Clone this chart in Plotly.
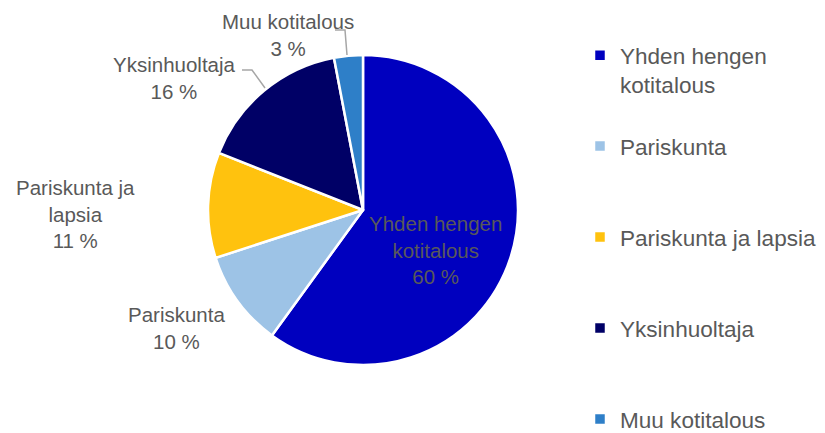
import plotly.graph_objects as go

categories = ["Yhden hengen kotitalous", "Pariskunta", "Pariskunta ja lapsia", "Yksinhuoltaja", "Muu kotitalous"]
values = [60, 10, 11, 16, 3]
colors = ["#0000BF", "#9DC3E6", "#FFC20E", "#000066", "#2E7FC8"]
legend_labels = ["Yhden hengen<br>kotitalous<br> ", "Pariskunta<br> <br> ", "Pariskunta ja lapsia<br> <br> ",
                 "Yksinhuoltaja<br> <br> ", "Muu kotitalous"]
slice_labels = ["Yhden hengen<br>kotitalous<br>%d %%", "Pariskunta<br>%d %%", "Pariskunta ja<br>lapsia<br>%d %%",
                "Yksinhuoltaja<br>%d %%", "Muu kotitalous<br>%d %%"]

W, H = 825, 433
OX, OY = 8, 8  # page body margin offset
cx, cy, r = 363 - OX, 210 - OY, 155

fig = go.Figure(go.Pie(
    labels=legend_labels,
    values=values,
    marker=dict(colors=colors, line=dict(color="white", width=2.5)),
    sort=False,
    direction="clockwise",
    rotation=0,
    textinfo="none",
    hoverinfo="label+percent",
    domain=dict(x=[(cx - r) / W, (cx + r) / W], y=[1 - (cy + r) / H, 1 - (cy - r) / H]),
))

# label positions (screen pixels)
label_pos = [(435, 250), (176, 328), (75, 214), (174, 78), (288, 35)]
for i, (lx, ly) in enumerate(label_pos):
    fig.add_annotation(
        x=(lx - OX) / W, y=1 - (ly - OY) / H, xref="paper", yref="paper",
        text=slice_labels[i] % values[i], showarrow=False,
        font=dict(family="Liberation Sans, Arial", size=20.5, color="#595959"),
        align="center", xanchor="center", yanchor="middle",
    )

# leader lines (screen pixels)
leaders = [
    [(242, 70), (252, 70), (265, 88)],
    [(335, 30), (345, 30), (347, 55)],
]
for pts in leaders:
    path = "M " + " L ".join(f"{(x - OX) / W},{1 - (y - OY) / H}" for x, y in pts)
    fig.add_shape(type="path", path=path, xref="paper", yref="paper",
                  line=dict(color="#A6A6A6", width=1.5))

fig.update_layout(
    width=W, height=H,
    margin=dict(l=0, r=0, t=0, b=0, autoexpand=False),
    paper_bgcolor="white", plot_bgcolor="white",
    font=dict(family="Liberation Sans, Arial", color="#595959"),
    legend=dict(
        x=572 / W, y=1 - 26 / H, xanchor="left", yanchor="top",
        font=dict(size=22.55, color="#595959"),
        valign="top", itemwidth=30,
        bgcolor="rgba(0,0,0,0)",
    ),
    showlegend=True,
)

fig.write_html("out.html")
